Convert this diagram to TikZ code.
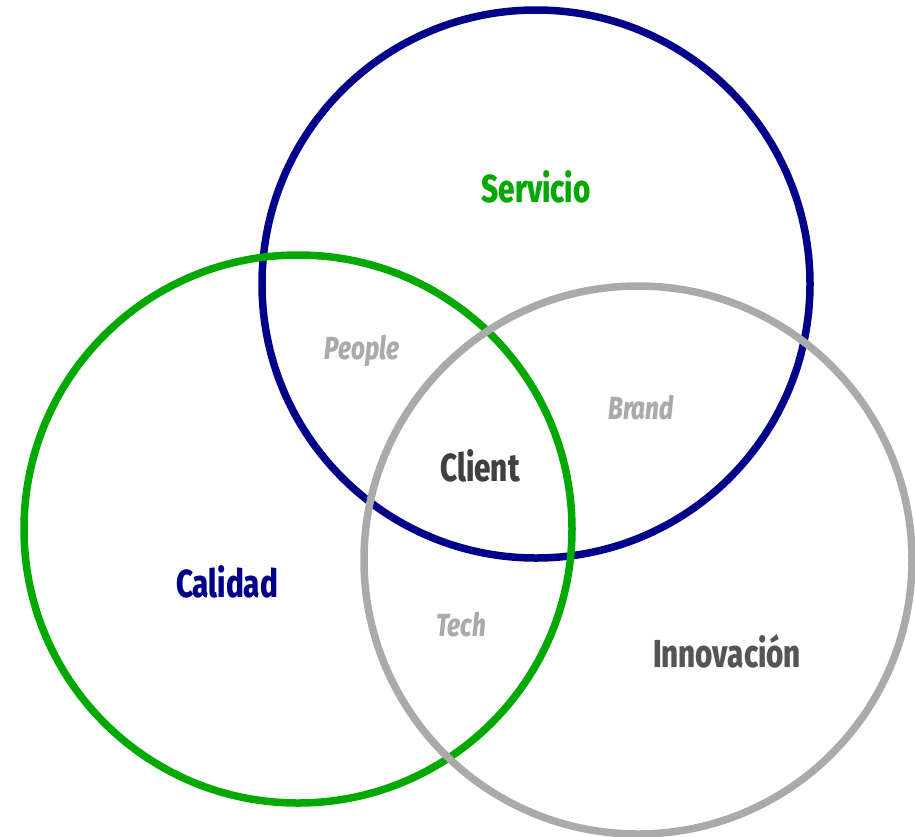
\documentclass[tikz,border=0pt]{standalone}
\usepackage{fontspec}
\newfontfamily\vennfont{Fira Sans}[FakeStretch=0.76,BoldFont={Fira Sans ExtraBold},BoldItalicFont={Fira Sans ExtraBold Italic}]
\definecolor{vgreen}{RGB}{0,168,0}
\definecolor{vblue}{RGB}{0,0,138}
\definecolor{vgray}{RGB}{170,170,170}
\definecolor{vdark}{RGB}{64,64,64}
\definecolor{vmid}{RGB}{85,85,85}
\usetikzlibrary{positioning}

\begin{document}
\begin{tikzpicture}[x=1pt,y=-1pt,
set circle/.style={circle,draw,line width=7.5pt,minimum size=548pt,inner sep=0pt},
main label/.style={font=\vennfont\bfseries\fontsize{39}{39}\selectfont},
small label/.style={font=\vennfont\bfseries\itshape\fontsize{32}{32}\selectfont,text=vgray}]

\useasboundingbox (0,0) rectangle (915,836);

% the three sets
\node[set circle,draw=vblue] (servicio) at (536,284) {};
\node[set circle,draw=vgreen] (calidad) at (298,529) {};
\node[set circle,draw=vgray] (innovacion) at (638,560) {};

% set names
\node[main label,text=vgreen] (servicio label) at (536,187) {Servicio};
\node[main label,text=vblue] (calidad label) at (227,582) {Calidad};
\node[main label,text=vmid] (innovacion label) at (727,651) {Innovación};
\node[main label,text=vdark] (client) at (480,466) {Client};

% overlaps
\node[small label] (people) at (362,351) {People};
\node[small label] (brand) at (641,408) {Brand};
\node[small label] (tech) at (461,625) {Tech};
\end{tikzpicture}
\end{document}
